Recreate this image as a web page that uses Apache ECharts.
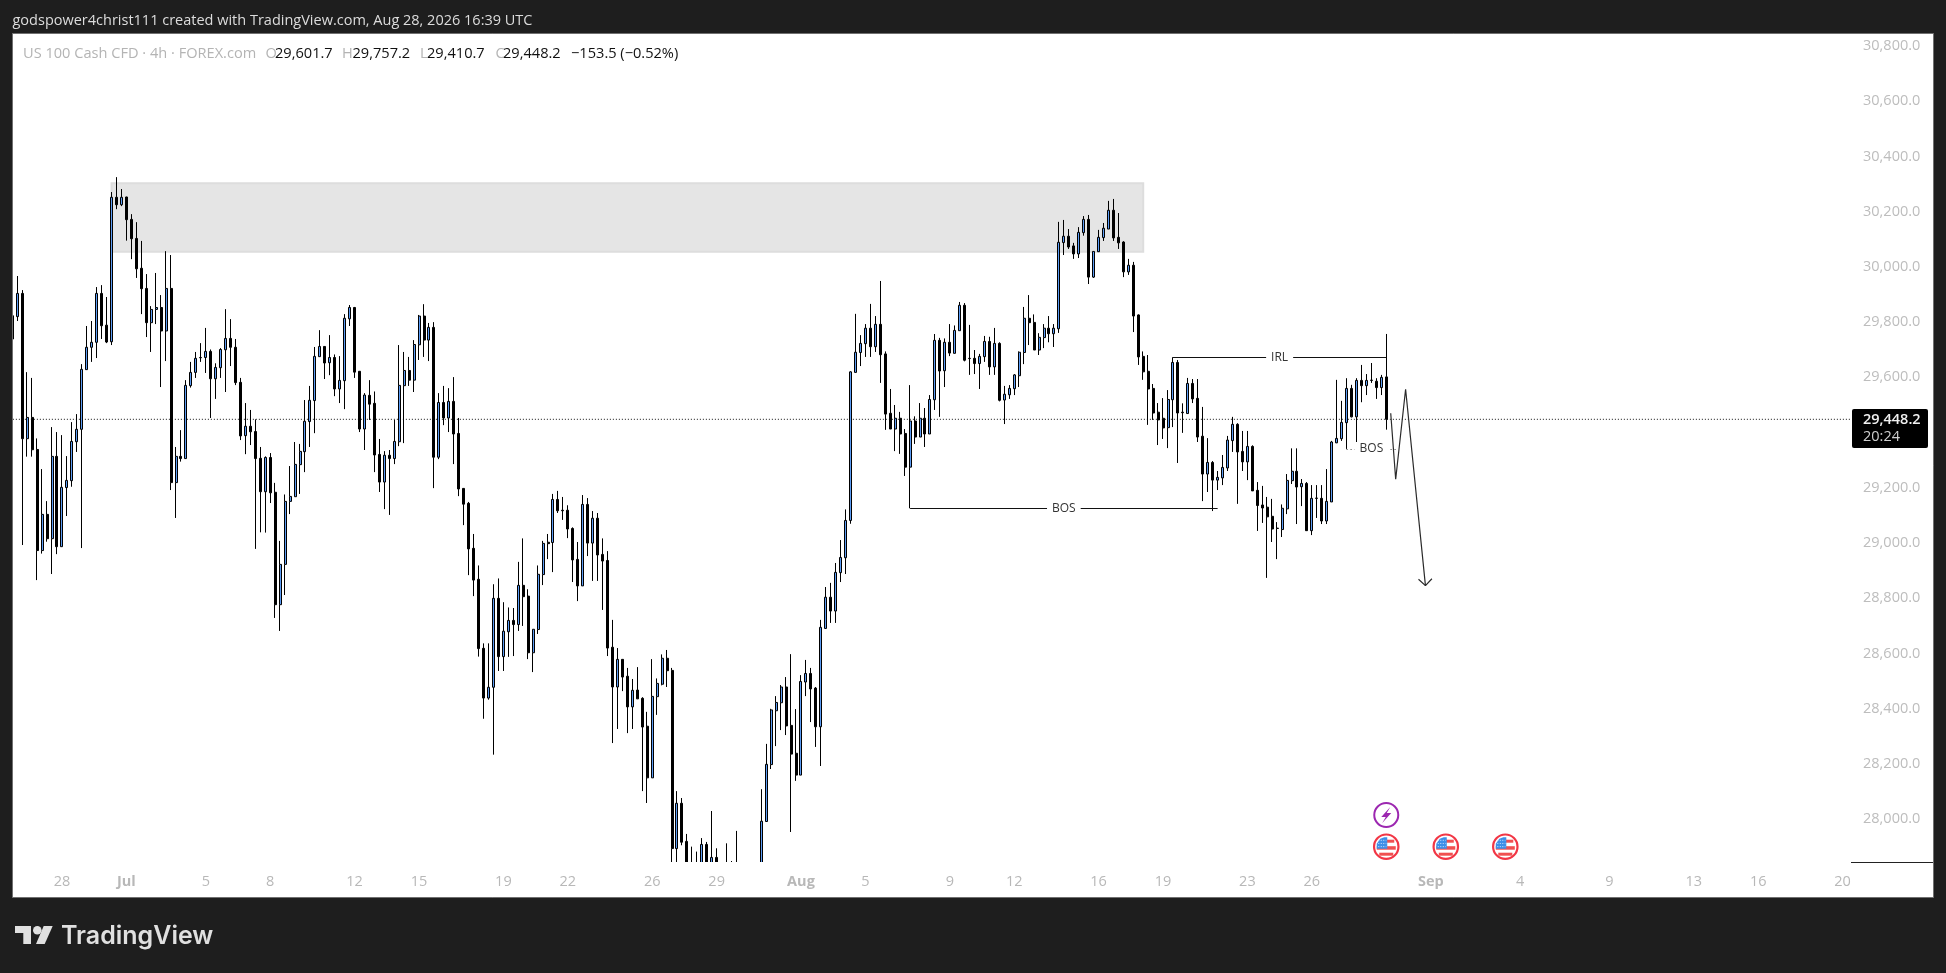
<!DOCTYPE html>
<html>
<head>
<meta charset="utf-8">
<title>US 100 Cash CFD 4h</title>
<style>html,body{margin:0;padding:0;background:#1e1e1e;overflow:hidden}#c{width:1946px;height:973px}</style>
<script src="https://cdn.jsdelivr.net/npm/echarts@6/dist/echarts.min.js"></script>
</head>
<body>
<div id="c"></div>
<script>
// every bar is [open, close, low, high]
const barsJune = [
[29823,29739,29739,29823],[29820,29904,29804,29967],[29904,29378,28993,29916],[29378,29455,29313,29619],[29455,29338,29313,29598],
[29339,28973,28866,29379],[28973,29104,28962,29268],[29104,29016,29005,29152],[29016,29314,28888,29420],[29314,28987,28960,29402],
[28987,29202,28987,29391],[29201,29227,29098,29315],[29226,29368,29204,29438],[29367,29412,29330,29467],[29412,29629,28982,29648],
[29628,29709,29628,29786],[29709,29727,29656,29804],[29727,29904,29670,29927],[29904,29787,29739,29934],[29789,29728,29724,29891],
[29729,30252,29717,30271],[30252,30225,30209,30325],[30225,30252,30220,30282]
];
const barsJulyEarly = [
[30253,30171,30095,30254],[30172,30102,30028,30191],[30103,29993,29960,30162],[29995,29921,29829,30094],[29922,29798,29746,29974],
[29798,29846,29692,29858],[29846,29853,29793,29978],[29853,29768,29565,29898],[29768,29922,29659,30057],[29922,29219,29192,30043],
[29219,29314,29091,29348],[29314,29306,29295,29409],[29306,29571,29306,29590],[29570,29618,29563,29656],[29618,29669,29598,29692],
[29672,29671,29656,29724],[29672,29694,29616,29779],[29694,29595,29453,29701],[29595,29636,29522,29651],[29635,29701,29598,29706],
[29700,29741,29547,29847],[29741,29709,29641,29811],[29709,29581,29572,29739],[29582,29388,29373,29598],[29389,29423,29322,29507],
[29423,29403,29355,29482],[29404,29306,28979,29448],[29307,29186,29039,29348],[29186,29310,29038,29314],[29310,29182,29145,29326],
[29184,28777,28729,29218],[28777,28923,28682,29008],[28923,29151,28812,29176],[29151,29169,29105,29279],[29168,29285,29168,29366],
[29284,29332,29178,29359],[29331,29441,29257,29518],[29440,29517,29348,29569],[29516,29676,29398,29710],[29675,29712,29675,29771],
[29712,29652,29594,29712],[29653,29672,29608,29753],[29672,29558,29532,29683],[29558,29589,29507,29677],[29588,29814,29485,29829],
[29812,29853,29786,29862],[29853,29619,29598,29855],[29622,29413,29402,29623],[29413,29536,29337,29543],[29535,29503,29446,29590],
[29506,29319,29257,29549],[29321,29221,29185,29377],[29221,29318,29123,29333],[29318,29306,29102,29337],[29306,29368,29286,29446],
[29367,29571,29351,29717],[29570,29625,29362,29692],[29625,29590,29569,29674],[29590,29719,29547,29735],[29718,29822,29663,29826],
[29822,29735,29674,29865],[29735,29781,29659,29797],[29781,29311,29199,29800],[29311,29509,29304,29543],[29509,29453,29427,29569],
[29453,29513,29402,29561],[29513,29395,29286,29601],[29397,29196,29170,29453],[29198,29141,29065,29199],[29144,28979,28884,29149],
[28981,28866,28808,29033]
];
const barsJulyLate = [
[28869,28618,28589,28919],[28619,28439,28364,28637],[28439,28478,28433,28637],[28478,28800,28234,28851],[28800,28589,28537,28872],
[28589,28681,28537,28786],[28679,28720,28588,28767],[28720,28705,28591,28765],[28705,28847,28682,28932],[28847,28806,28700,29017],
[28808,28603,28580,28833],[28603,28688,28533,28688],[28687,28887,28671,28919],[28886,28999,28848,29008],[29003,28998,28942,29033],
[29002,29158,28895,29178],[29158,29117,29109,29189],[29119,29117,29084,29167],[29119,29051,29018,29137],[29053,28939,28859,29057],
[28941,28845,28790,29004],[28845,29140,28845,29174],[29140,29000,28953,29163],[29000,29090,28863,29116],[29090,28957,28863,29109],
[28959,28935,28758,29017],[28937,28620,28591,28971],[28623,28479,28276,28722],[28479,28579,28327,28620],[28579,28515,28464,28579],
[28518,28407,28312,28548],[28407,28467,28327,28508],[28468,28436,28436,28551],[28438,28334,28102,28442],[28337,28150,28059,28389],
[28150,28445,28150,28580],[28444,28492,28378,28510],[28489,28583,28485,28597],[28583,28538,28479,28613],[28539,27894,27800,28548],
[27894,28058,27816,28102],[28058,27917,27906,28077],[27920,27804,27780,27947],[27800,27780,27750,27901],[27810,27790,27760,27883],
[27790,27909,27770,27932],[27909,27790,27760,27918],[27810,27862,27790,28030],[27862,27800,27780,27895],[27820,27800,27780,27835],
[27830,27810,27790,27913],[27820,27810,27790,27849],[27810,27825,27780,27958],[27800,27780,27760,27830],[27780,27770,27750,27820],
[27770,27790,27750,27825],[27790,27810,27770,27835],[27810,27993,27790,28109],[27992,28199,27992,28273],[28198,28396,28182,28400],
[28393,28423,28265,28446],[28422,28479,28323,28486],[28479,28338,28305,28515],[28340,28236,27954,28598],[28239,28160,28139,28399]
];
const barsAugustEarly = [
[28160,28499,28160,28522],[28497,28528,28446,28577],[28528,28472,28352,28548],[28475,28335,28262,28479],[28335,28695,28193,28722],
[28691,28804,28689,28841],[28804,28754,28711,28856],[28754,28894,28711,28928],[28893,28948,28859,29011],[28947,29082,28888,29122],
[29082,29620,29070,29622],[29618,29691,29618,29830],[29690,29723,29641,29753],[29722,29778,29674,29793],[29778,29711,29674,29866],
[29711,29792,29692,29822],[29792,29682,29580,29949],[29685,29467,29410,29694],[29470,29413,29413,29558],[29413,29452,29333,29500],
[29452,29395,29323,29475],[29397,29275,29243,29413],[29275,29442,29126,29572],[29442,29384,29359,29459],[29384,29452,29384,29507],
[29452,29395,29348,29489],[29395,29520,29395,29536],[29519,29734,29482,29757],[29734,29623,29457,29743],[29624,29727,29565,29741],
[29727,29688,29677,29793],[29687,29770,29687,29788],[29769,29861,29769,29873],[29861,29662,29658,29869],[29669,29668,29609,29790],
[29669,29650,29612,29699],[29650,29676,29558,29685],[29675,29730,29656,29750],[29730,29638,29609,29747],[29638,29723,29609,29779],
[29723,29517,29513,29727],[29518,29539,29431,29569],[29537,29560,29522,29572],[29559,29609,29536,29612],[29606,29691,29565,29694],
[29690,29814,29648,29855],[29814,29798,29717,29898],[29799,29699,29699,29828],[29699,29745,29681,29760],[29744,29778,29706,29793],
[29778,29758,29727,29822],[29758,29778,29710,29793],[29776,30089,29761,30163],[30088,30111,30043,30170],[30111,30072,30065,30137],
[30076,30047,30029,30087],[30047,30125,30032,30144],[30124,30172,30113,30184],[30172,29963,29938,30188],[29963,30056,29960,30056]
];
const barsAugustLate = [
[30055,30107,30054,30134],[30106,30140,30094,30159],[30137,30205,30137,30239],[30205,30105,30094,30246],[30107,30087,30065,30195],
[30090,29982,29963,30093],[29982,30006,29971,30029],[30006,29822,29764,30018],[29826,29674,29645,29828],[29676,29620,29591,29694],
[29622,29558,29428,29681],[29560,29471,29446,29576],[29474,29446,29355,29507],[29452,29417,29377,29525],[29418,29520,29344,29554],
[29519,29654,29420,29673],[29654,29471,29290,29663],[29474,29472,29399,29506],[29469,29578,29469,29598],[29578,29522,29507,29594],
[29524,29384,29366,29594],[29387,29250,29152,29493],[29250,29292,29185,29380],[29292,29228,29116,29297],[29228,29238,29192,29261],
[29236,29274,29210,29319],[29272,29373,29261,29388],[29371,29430,29330,29457],[29430,29330,29142,29434],[29332,29294,29261,29406],
[29294,29350,29228,29406],[29350,29189,29189,29354],[29191,29136,29044,29221],[29138,29127,29073,29207],[29130,29095,28874,29167],
[29097,29051,29004,29160],[29054,29053,28942,29076],[29049,29126,29022,29140],[29124,29227,29105,29250],[29226,29260,29214,29343],
[29260,29203,29069,29343],[29204,29216,29134,29232],[29216,29045,29045,29221],[29045,29162,29029,29210],[29163,29162,29091,29210],
[29162,29080,29069,29210],[29080,29151,29069,29268],[29149,29366,29149,29370],[29363,29379,29362,29591],[29378,29437,29370,29515],
[29436,29560,29341,29597],[29560,29457,29455,29573],[29457,29589,29365,29597],[29589,29570,29510,29645],[29570,29589,29536,29612],
[29590,29589,29580,29652],[29586,29563,29522,29597],[29563,29600,29536,29609],[29601.7,29448.2,29410.7,29757.2]
];
const slotCount = 371;
const dateTickBars = [10,23,39,52,69,82,99,112,129,142,159,172,189,202,219,232,249,262,286,304,322,339,352,369];
const dateTickLabels = ['28','Jul','5','8','12','15','19','22','26','29','Aug','5','9','12','16','19','23','26','Sep','4','9','13','16','20'];
const monthLabels = ['Jul','Aug','Sep'];
const priceTicks = [28000,28200,28400,28600,28800,29000,29200,29400,29600,29800,30000,30200,30400,30600,30800];
const lastPrice = 29448.2;
const zoneBars = [20,228];
const zonePrices = [30303,30055];
const bosLongBars = [181,243];
const bosLongPrice = 29126;
const irlBars = [234,277];
const irlPrice = 29672.6;
const bosShortBars = [269,279];
const bosShortPrice = 29341;
const pathBars = [277.9,278.9,280.9,284.9];
const pathPrices = [29470,29231,29557,28846];
const arrowWingBars = [283.5,284.9,286.2];
const arrowWingPrices = [28869,28846,28871];
const lightningBar = 277;
const flagBars = [277,289,301];

const bars = [].concat(barsJune, barsJulyEarly, barsJulyLate, barsAugustEarly, barsAugustLate);
const categories = Array.from({length: slotCount}, (_, i) => {
  const t = dateTickBars.indexOf(i);
  return t >= 0 ? dateTickLabels[t] : '';
});

const FONT = '"Open Sans", "Noto Sans", sans-serif';
const GRID_L = 9.86, SLOT = 4.96, GRID_T = 34, GRID_B_Y = 862;
const K = 0.2762;
const yMax = lastPrice + (419.3 - GRID_T) / K;
const yMin = lastPrice - (GRID_B_Y - 419.3) / K;

const chart = echarts.init(document.getElementById('c'), null, {renderer: 'canvas', width: 1946, height: 973});

function txt(x, y, s, font, fill, z) {
  return {type: 'text', z: z || 60, silent: true, style: {x, y, text: s, font, fill, textVerticalAlign: 'middle'}};
}
const numF = '14.6px ' + FONT, nameF = '14.6px ' + FONT;
const LEGEND_GREY = '#b4b4b4';
const chrome = [
  {type: 'rect', z: -5, shape: {x: 12.5, y: 33.5, width: 1921, height: 864}, style: {fill: '#ffffff', stroke: '#707070', lineWidth: 1}},
  {type: 'rect', z: 5, shape: {x: 13, y: 862, width: 1838, height: 35}, style: {fill: '#ffffff'}},
  {type: 'rect', z: 50, shape: {x: 0, y: 0, width: 12, height: 973}, style: {fill: '#1e1e1e'}},
  {type: 'line', z: 51, shape: {x1: 12.5, y1: 33, x2: 12.5, y2: 897}, style: {stroke: '#707070', lineWidth: 1}},
  {type: 'line', z: 51, shape: {x1: 1851, y1: 862.5, x2: 1933, y2: 862.5}, style: {stroke: '#222222', lineWidth: 1}},
  txt(12.5, 20.5, 'godspower4christ111 created with TradingView.com, Aug 28, 2026 16:39 UTC', '14.5px ' + FONT, '#dcdcdc'),
  txt(23, 54, 'US 100 Cash CFD · 4h · FOREX.com', nameF, LEGEND_GREY),
  txt(265.5, 54, 'O', nameF, LEGEND_GREY), txt(275, 54, '29,601.7', numF, '#111'),
  txt(342, 54, 'H', nameF, LEGEND_GREY), txt(352.5, 54, '29,757.2', numF, '#111'),
  txt(420, 54, 'L', nameF, LEGEND_GREY), txt(427, 54, '29,410.7', numF, '#111'),
  txt(495.5, 54, 'C', nameF, LEGEND_GREY), txt(503, 54, '29,448.2', numF, '#111'),
  txt(571, 54, '−153.5 (−0.52%)', numF, '#111'),
  {type: 'rect', z: 55, shape: {x: 1852, y: 409, width: 76, height: 39, r: 2}, style: {fill: '#000000'}},
  txt(1863, 419.5, '29,448.2', '600 14.5px ' + FONT, '#f0f0f0'),
  txt(1863, 437, '20:24', '14.5px ' + FONT, '#cfcfcf'),
  {type: 'polygon', z: 60, shape: {points: [[15,926],[31,926],[31,944],[23.3,944],[23.3,933],[15,933]]}, style: {fill: '#e0e0e0'}},
  {type: 'circle', z: 60, shape: {cx: 37.3, cy: 930.2, r: 4.3}, style: {fill: '#e0e0e0'}},
  {type: 'polygon', z: 60, shape: {points: [[43.7,926],[52.7,926],[44.7,944],[36,944]]}, style: {fill: '#e0e0e0'}},
  txt(61, 936, 'TradingView', '600 25px Inter, "Open Sans", sans-serif', '#e0e0e0')
];

const option = {
  backgroundColor: '#1e1e1e',
  animation: false,
  grid: {left: GRID_L, top: GRID_T, width: slotCount * SLOT, height: GRID_B_Y - GRID_T, containLabel: false},
  xAxis: [
    {type: 'category', data: categories, boundaryGap: true, z: 10,
     axisLine: {show: false}, axisTick: {show: false}, splitLine: {show: false},
     axisLabel: {interval: (i, v) => v !== '', margin: 12, color: '#b8b8b8', fontFamily: FONT, fontSize: 14.5,
       hideOverlap: false, showMinLabel: true, showMaxLabel: true,
       formatter: v => monthLabels.includes(v) ? '{m|' + v + '}' : v,
       rich: {m: {fontWeight: 'bold', color: '#b8b8b8', fontFamily: FONT, fontSize: 14.5}}}},
    {type: 'value', min: -0.5, max: slotCount - 0.5, show: false, splitLine: {show: false}}
  ],
  yAxis: {type: 'value', position: 'right', min: yMin, max: yMax, scale: true, z: 10,
    axisLine: {show: false}, axisTick: {show: false}, splitLine: {show: false},
    axisLabel: {customValues: priceTicks, margin: 13, align: 'left', color: '#bdbdbd', fontFamily: FONT, fontSize: 14.5,
      formatter: v => v.toLocaleString('en-US', {minimumFractionDigits: 1, maximumFractionDigits: 1})}},
  series: [
    {type: 'line', name: 'zone', xAxisIndex: 1, z: 1, data: [], silent: true,
     markArea: {silent: true, z: 1, itemStyle: {color: '#e5e5e5', borderColor: '#dddddd', borderWidth: 2, opacity: 1},
       data: [[{coord: [zoneBars[0], zonePrices[0]]}, {coord: [zoneBars[1], zonePrices[1]]}]]}},
    {type: 'line', name: 'last', xAxisIndex: 1, z: 1, symbol: 'none', silent: true,
     data: [[-0.5, lastPrice], [slotCount - 0.5, lastPrice]],
     lineStyle: {color: '#111111', width: 1, type: [1, 2]}},
    {type: 'candlestick', name: 'US100', xAxisIndex: 0, z: 2, clip: true, silent: true, barWidth: 2.5,
     data: bars,
     itemStyle: {color: '#5b9cf5', color0: '#000000', borderColor: '#000000', borderColor0: '#000000', borderColorDoji: '#000000', borderWidth: 1}},
    {type: 'line', name: 'notes', xAxisIndex: 1, z: 3, data: [], silent: true,
     markLine: {silent: true, z: 5, symbol: 'none', animation: false,
       lineStyle: {color: '#111111', width: 1, type: 'solid'},
       label: {position: 'middle', distance: 0, verticalAlign: 'middle', color: '#333333', fontFamily: FONT, fontSize: 12, backgroundColor: '#ffffff', padding: [1, 5]},
       data: [
         [{coord: [bosLongBars[0], bosLongPrice], label: {formatter: 'BOS'}}, {coord: [bosLongBars[1], bosLongPrice]}],
         [{coord: [irlBars[0], irlPrice], label: {formatter: 'IRL'}}, {coord: [irlBars[1], irlPrice]}],
         [{coord: [bosShortBars[0], bosShortPrice], label: {formatter: 'BOS'}, lineStyle: {type: [1, 3], color: '#444444'}}, {coord: [bosShortBars[1], bosShortPrice]}]
       ]}},
    {type: 'line', name: 'path', xAxisIndex: 1, z: 4, symbol: 'none', silent: true,
     data: pathBars.map((b, i) => [b, pathPrices[i]]), lineStyle: {color: '#2a2a2a', width: 1.2}},
    {type: 'line', name: 'arrow', xAxisIndex: 1, z: 4, symbol: 'none', silent: true,
     data: arrowWingBars.map((b, i) => [b, arrowWingPrices[i]]), lineStyle: {color: '#2a2a2a', width: 1.2}}
  ],
  graphic: {elements: chrome}
};
chart.setOption(option);

// event icons placed through the hidden value axis
function xOf(bar) { return chart.convertToPixel({xAxisIndex: 1}, bar); }
const icons = [];
const lx = xOf(lightningBar), ly = 815;
icons.push({type: 'circle', z: 60, shape: {cx: lx, cy: ly, r: 12}, style: {fill: '#ffffff', stroke: '#9c27b0', lineWidth: 2}});
icons.push({type: 'polygon', z: 61, shape: {points: [[lx+4,ly-8],[lx-5,ly+2],[lx-0.5,ly+2],[lx-4,ly+8],[lx+5,ly-2],[lx+0.5,ly-2]]}, style: {fill: '#9c27b0'}});
flagBars.forEach(b => {
  const x = xOf(b), y = 846.7;
  icons.push({type: 'circle', z: 60, shape: {cx: x, cy: y, r: 12.2}, style: {fill: '#ffffff', stroke: '#f23645', lineWidth: 2.2}});
  icons.push({type: 'rect', z: 61, shape: {x: x-7, y: y+6, width: 14, height: 3}, style: {fill: '#f05050'}});
  icons.push({type: 'rect', z: 61, shape: {x: x-9.5, y: y-0.5, width: 19, height: 3.5}, style: {fill: '#f05050'}});
  icons.push({type: 'rect', z: 61, shape: {x: x, y: y-7, width: 8, height: 3}, style: {fill: '#f05050'}});
  icons.push({type: 'polygon', z: 62, shape: {points: [[x-9.5,y-3],[x-6,y-8],[x-2,y-9.5],[x+1,y-9.5],[x+1,y+2],[x-9.5,y+2]]}, style: {fill: '#3d8fe8'}});
  [-6,-2.5,1].forEach(d => icons.push({type: 'line', z: 63, shape: {x1: x-8, y1: y+d*0.9-1, x2: x, y2: y+d*0.9-1}, style: {stroke: '#cfe4fb', lineWidth: 1, lineDash: [1, 1.5]}}));
});
chart.setOption({graphic: {elements: chrome.concat(icons)}});
</script>
</body>
</html>
